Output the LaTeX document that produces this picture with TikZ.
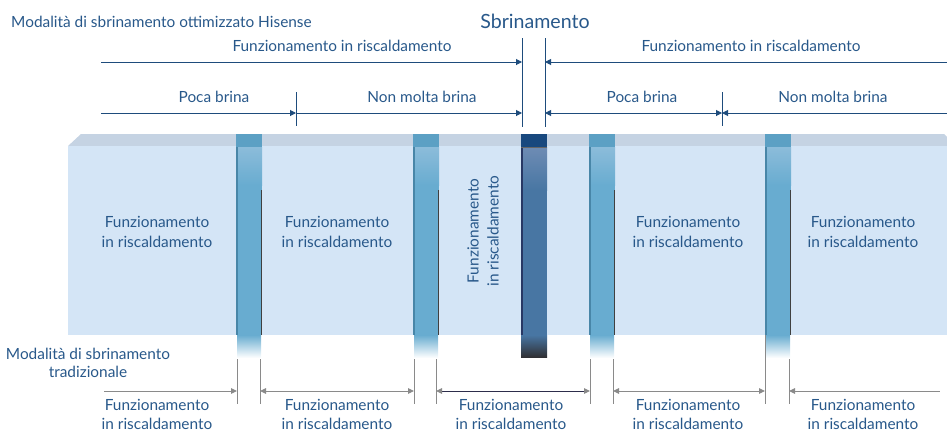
\documentclass[tikz,border=0pt]{standalone}
\usepackage{fontspec}
\setmainfont{Lato}
\usetikzlibrary{arrows.meta}
\definecolor{txtblue}{RGB}{40,88,138}
\definecolor{arrblue}{RGB}{30,76,124}
\definecolor{dimgrey}{RGB}{138,138,138}
\definecolor{bandtop}{RGB}{197,211,227}
\definecolor{bandface}{RGB}{212,229,246}
\definecolor{slabc}{RGB}{104,172,208}
\definecolor{slabtop}{RGB}{92,160,196}
\definecolor{slablight}{RGB}{140,188,218}
\definecolor{slabedge}{RGB}{72,134,168}
\definecolor{dslab}{RGB}{72,118,163}
\definecolor{dslabtop}{RGB}{24,72,126}
\definecolor{dslablight}{RGB}{110,140,180}
\definecolor{dslabedge}{RGB}{40,56,100}
\definecolor{darkbot}{RGB}{48,48,52}
\definecolor{navyline}{RGB}{45,45,75}
\newcommand{\lightslab}[1]{%
  \shade[top color=slabc, bottom color=white] (#1+1,335) rectangle (#1+25,358);
  \fill[slabc] (#1,134) rectangle (#1+26,335);
  \fill[slabtop] (#1,134) rectangle (#1+26,147);
  \shade[top color=slablight, bottom color=slabc] (#1,147) rectangle (#1+26,185);
  \fill[slabedge] (#1,147) rectangle (#1+1.6,335);
  \draw[black!75, line width=1.2pt] (#1+25.2,190) -- (#1+25.2,335);
}
\begin{document}
\begin{tikzpicture}[x=1pt,y=-1pt,
  txt/.style={text=txtblue, font=\fontsize{15.4}{20}\selectfont, align=center, inner sep=0pt},
  topdim/.style={draw=arrblue, line width=1pt},
  toptip/.style={-{Triangle[length=6pt,width=6pt]}},
  tick/.style={draw=arrblue, line width=1pt},
  botdim/.style={draw=dimgrey, line width=1pt},
  bottip/.style={{Triangle[length=6pt,width=5.5pt]}-{Triangle[length=6pt,width=5.5pt]}},
  gtick/.style={draw=dimgrey, line width=1pt}]
\useasboundingbox (0,0) rectangle (947,432);
% band
\fill[bandtop] (68,146) -- (81,134) -- (944,134) -- (947,137) -- (947,146) -- cycle;
\fill[bandface] (68,146) rectangle (947,335);
% grey ticks below band
\foreach \xx in {237,260,414,436,590,613,765,789}
  \draw[gtick] (\xx,335) -- (\xx,404);
% light slabs
\lightslab{236}
\lightslab{413}
\lightslab{589}
\lightslab{765}
% dark slab
\shade[top color=dslab, bottom color=darkbot] (521,335) rectangle (547,357);
\fill[dslab] (521,134) rectangle (547,335);
\fill[dslabtop] (521,134) rectangle (547,147);
\shade[top color=dslablight, bottom color=dslab] (521,147) rectangle (547,190);
\fill[dslabedge] (521,147) rectangle (522.8,335);
\draw[black!60, line width=0.8pt] (521,147.5) -- (547,147.5);

% top texts
\node[txt, anchor=west] (title) at (11,22) {Modalità di sbrinamento ottimizzato Hisense};
\node[txt, font=\fontsize{19.6}{22}\selectfont] (sbr) at (535,21) {Sbrinamento};
\node[txt] (ft1) at (342,46) {Funzionamento in riscaldamento};
\node[txt] (ft2) at (751,46) {Funzionamento in riscaldamento};
\node[txt] (pb1) at (214,97) {Poca brina};
\node[txt] (nm1) at (422,97) {Non molta brina};
\node[txt] (pb2) at (642,97) {Poca brina};
\node[txt] (nm2) at (833,97) {Non molta brina};

% top ticks
\coordinate (v2a) at (522,38); \coordinate (v2b) at (522,127);
\coordinate (v3a) at (545,38); \coordinate (v3b) at (545,127);
\coordinate (v1a) at (296,92); \coordinate (v1b) at (296,126);
\coordinate (v4a) at (722,92); \coordinate (v4b) at (722,126);
\draw[tick] (v2a) -- (v2b);
\draw[tick] (v3a) -- (v3b);
\draw[tick] (v1a) -- (v1b);
\draw[tick] (v4a) -- (v4b);

% top dimension lines
\coordinate (tL) at (101,62); \coordinate (t1) at (522,62);
\coordinate (t2) at (545,62); \coordinate (tR) at (947,62);
\draw[topdim, toptip] (tL) -- (t1);
\draw[topdim, toptip] (tR) -- (t2);
\coordinate (mL) at (101,113); \coordinate (m1) at (296,113);
\coordinate (m2) at (522,113); \coordinate (m3) at (545,113);
\coordinate (m4) at (722,113); \coordinate (mR) at (947,113);
\draw[topdim, toptip] (mL) -- (m1);
\draw[topdim, toptip] (m1) -- (m2);
\draw[topdim, {Triangle[length=6pt,width=6pt]}-{Triangle[length=6pt,width=6pt]}] (m3) -- (m4);
\draw[topdim, toptip] (mR) -- (m4);

% band texts
\node[txt] (h1) at (157,232) {Funzionamento\\in riscaldamento};
\node[txt] (h2) at (337,232) {Funzionamento\\in riscaldamento};
\node[txt, rotate=90] (h3) at (483,231) {Funzionamento\\in riscaldamento};
\node[txt] (h4) at (688,232) {Funzionamento\\in riscaldamento};
\node[txt] (h5) at (863,232) {Funzionamento\\in riscaldamento};

% traditional mode
\node[txt, font=\fontsize{15.4}{17.5}\selectfont] (trad) at (88,363) {Modalità di sbrinamento\\tradizionale};

% bottom dimension lines
\coordinate (b0) at (104,391); \coordinate (b1) at (237,391);
\coordinate (b2) at (260,391); \coordinate (b3) at (414,391);
\coordinate (b4) at (436,391); \coordinate (b5) at (590,391);
\coordinate (b6) at (613,391); \coordinate (b7) at (765,391);
\coordinate (b8) at (789,391); \coordinate (b9) at (940,391);
\draw[botdim, -{Triangle[length=6pt,width=5.5pt]}] (b0) -- (b1);
\draw[botdim, bottip] (b2) -- (b3);
\draw[botdim, draw=navyline, {Triangle[length=6pt,width=5.5pt,color=dimgrey]}-{Triangle[length=6pt,width=5.5pt,color=dimgrey]}] (b4) -- (b5);
\draw[botdim, bottip] (b6) -- (b7);
\draw[botdim, {Triangle[length=6pt,width=5.5pt]}-] (b8) -- (b9);

\node[txt, font=\fontsize{15.4}{19}\selectfont] (l1) at (157,414) {Funzionamento\\in riscaldamento};
\node[txt, font=\fontsize{15.4}{19}\selectfont] (l2) at (337,414) {Funzionamento\\in riscaldamento};
\node[txt, font=\fontsize{15.4}{19}\selectfont] (l3) at (511,414) {Funzionamento\\in riscaldamento};
\node[txt, font=\fontsize{15.4}{19}\selectfont] (l4) at (688,414) {Funzionamento\\in riscaldamento};
\node[txt, font=\fontsize{15.4}{19}\selectfont] (l5) at (863,414) {Funzionamento\\in riscaldamento};
\end{tikzpicture}
\end{document}
